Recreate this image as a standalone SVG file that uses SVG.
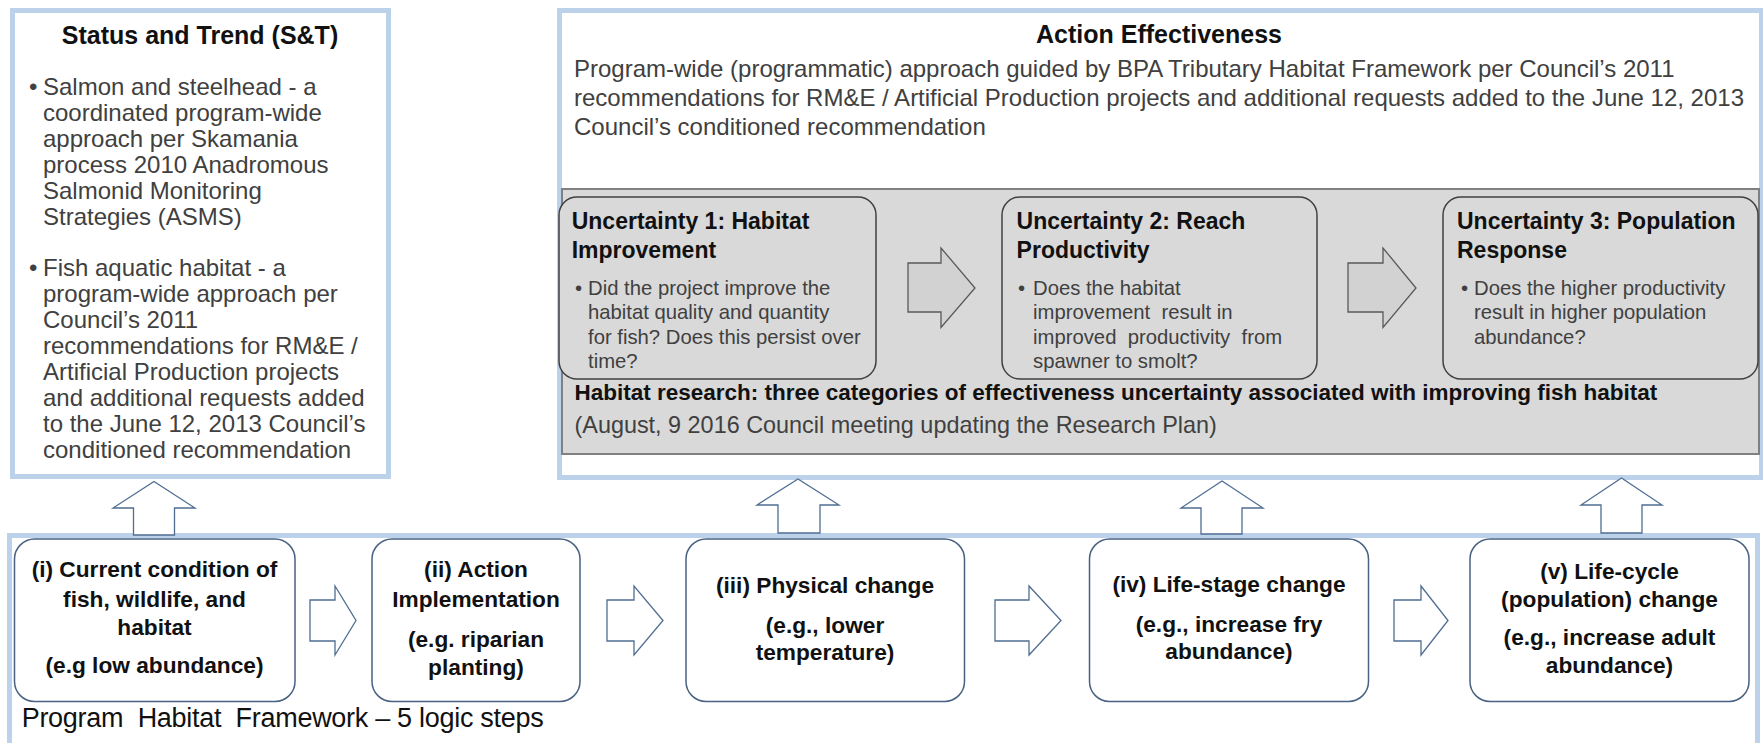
<svg xmlns="http://www.w3.org/2000/svg" width="1763" height="743" viewBox="0 0 1763 743">
<style>
text{font-family:"Liberation Sans",Arial,sans-serif}
.frame{fill:#fff;stroke:#bcd2ea;stroke-width:5}
.panel{fill:#d9d9d9;stroke:#808080;stroke-width:2}
.ubox{fill:#d9d9d9;stroke:#404040;stroke-width:1.5}
.step{fill:#fff;stroke:#4a6282;stroke-width:1.5}
.garrow{fill:#d2d2d2;stroke:#595959;stroke-width:1.3}
.warrow{fill:#fff;stroke:#4f6d92;stroke-width:1.3}
.ttl{font-weight:bold;fill:#111;font-size:25px}
.stb{fill:#404040;font-size:24px}
.aei{fill:#404040;font-size:24px}
.ut{font-weight:bold;fill:#111;font-size:23px}
.ub{fill:#404040;font-size:20.3px}
.hr{font-weight:bold;fill:#111;font-size:22.5px}
.aug{fill:#404040;font-size:23.4px}
.st{font-weight:bold;fill:#111;font-size:22.7px;text-anchor:middle}
.phf{fill:#111;font-size:27px}
</style>
<rect width="1763" height="743" fill="#fff"/>

<g id="status-trend">
<rect class="frame" x="12.5" y="10.5" width="376" height="466"/>
<text class="ttl" x="200" y="44" text-anchor="middle">Status and Trend (S&amp;T)</text>
<text class="stb" x="29" y="95">•</text>
<text class="stb" x="43" y="95">Salmon and steelhead - a</text>
<text class="stb" x="43" y="120.9">coordinated program-wide</text>
<text class="stb" x="43" y="146.8">approach per Skamania</text>
<text class="stb" x="43" y="172.7">process 2010 Anadromous</text>
<text class="stb" x="43" y="198.6">Salmonid Monitoring</text>
<text class="stb" x="43" y="224.5">Strategies (ASMS)</text>
<text class="stb" x="29" y="276.3">•</text>
<text class="stb" x="43" y="276.3">Fish aquatic habitat - a</text>
<text class="stb" x="43" y="302.2">program-wide approach per</text>
<text class="stb" x="43" y="328.1">Council’s 2011</text>
<text class="stb" x="43" y="354">recommendations for RM&amp;E /</text>
<text class="stb" x="43" y="379.9">Artificial Production projects</text>
<text class="stb" x="43" y="405.8">and additional requests added</text>
<text class="stb" x="43" y="431.7">to the June 12, 2013 Council’s</text>
<text class="stb" x="43" y="457.6">conditioned recommendation</text>
</g>

<g id="action-effectiveness">
<rect class="frame" x="559.5" y="10.5" width="1202" height="467"/>
<text class="ttl" x="1159" y="43" text-anchor="middle">Action Effectiveness</text>
<text class="aei" x="574" y="77">Program-wide (programmatic) approach guided by BPA Tributary Habitat Framework per Council’s 2011</text>
<text class="aei" x="574" y="106">recommendations for RM&amp;E / Artificial Production projects and additional requests added to the June 12, 2013</text>
<text class="aei" x="574" y="135">Council’s conditioned recommendation</text>
</g>

<g id="habitat-research">
<rect class="panel" x="562" y="189" width="1197" height="265"/>
<text class="hr" x="574.5" y="400">Habitat research: three categories of effectiveness uncertainty associated with improving fish habitat</text>
<text class="aug" x="574.5" y="433">(August, 9 2016 Council meeting updating the Research Plan)</text>
</g>

<g id="uncertainty-1">
<rect class="ubox" x="559" y="197" width="317" height="182" rx="18"/>
<text class="ut" x="571.7" y="229">Uncertainty 1: Habitat</text>
<text class="ut" x="571.7" y="258">Improvement</text>
<text class="ub" x="575" y="295">•</text>
<text class="ub" x="588" y="295">Did the project improve the</text>
<text class="ub" x="588" y="319.3">habitat quality and quantity</text>
<text class="ub" x="588" y="343.6">for fish? Does this persist over</text>
<text class="ub" x="588" y="367.9">time?</text>
</g>

<g id="uncertainty-2">
<rect class="ubox" x="1002" y="197" width="315" height="182" rx="18"/>
<text class="ut" x="1016.6" y="229">Uncertainty 2: Reach</text>
<text class="ut" x="1016.6" y="258">Productivity</text>
<text class="ub" x="1018" y="295">•</text>
<text class="ub" x="1033" y="295">Does the habitat</text>
<text class="ub" x="1033" y="319.3" xml:space="preserve">improvement  result in</text>
<text class="ub" x="1033" y="343.6" xml:space="preserve">improved  productivity  from</text>
<text class="ub" x="1033" y="367.9">spawner to smolt?</text>
</g>

<g id="uncertainty-3">
<rect class="ubox" x="1443" y="197" width="315" height="182" rx="18"/>
<text class="ut" x="1457" y="229">Uncertainty 3: Population</text>
<text class="ut" x="1457" y="258">Response</text>
<text class="ub" x="1461" y="295">•</text>
<text class="ub" x="1474" y="295">Does the higher productivity</text>
<text class="ub" x="1474" y="319.3">result in higher population</text>
<text class="ub" x="1474" y="343.6">abundance?</text>
</g>

<g id="program-habitat-framework">
<rect class="frame" x="9.5" y="535.5" width="1748" height="230"/>
<text class="phf" x="21.7" y="727.3" textLength="522" xml:space="preserve">Program  Habitat  Framework – 5 logic steps</text>
</g>

<g id="step-i">
<rect class="step" x="14.5" y="539" width="280.5" height="162.5" rx="20"/>
<text class="st" x="154.5" y="577.3">(i) Current condition of</text>
<text class="st" x="154.5" y="606.5">fish, wildlife, and</text>
<text class="st" x="154.5" y="635">habitat</text>
<text class="st" x="154.5" y="673.3">(e.g low abundance)</text>
</g>

<g id="step-ii">
<rect class="step" x="372" y="539" width="208" height="162.5" rx="20"/>
<text class="st" x="476" y="577.3">(ii) Action</text>
<text class="st" x="476" y="606.5">Implementation</text>
<text class="st" x="476" y="646.5">(e.g. riparian</text>
<text class="st" x="476" y="675">planting)</text>
</g>

<g id="step-iii">
<rect class="step" x="686" y="539" width="278.5" height="162.5" rx="20"/>
<text class="st" x="825" y="593">(iii) Physical change</text>
<text class="st" x="825" y="633">(e.g., lower</text>
<text class="st" x="825" y="660">temperature)</text>
</g>

<g id="step-iv">
<rect class="step" x="1089.5" y="539" width="279" height="162.5" rx="20"/>
<text class="st" x="1229" y="591.7">(iv) Life-stage change</text>
<text class="st" x="1229" y="631.7">(e.g., increase fry</text>
<text class="st" x="1229" y="658.5">abundance)</text>
</g>

<g id="step-v">
<rect class="step" x="1470" y="539" width="279" height="162.5" rx="20"/>
<text class="st" x="1609.5" y="578.5">(v) Life-cycle</text>
<text class="st" x="1609.5" y="607">(population) change</text>
<text class="st" x="1609.5" y="645">(e.g., increase adult</text>
<text class="st" x="1609.5" y="673.3">abundance)</text>
</g>

<g id="connectors">
<path class="garrow" d="M908,263 H941 V248 L975,288 L941,327.5 V312 H908 Z"/>
<path class="garrow" d="M1348,263 H1383 V248 L1416,288 L1383,327.5 V312 H1348 Z"/>
<path class="warrow" d="M310,600 H335 V586 L356,620.5 L335,655 V641 H310 Z"/>
<path class="warrow" d="M607,600 H634 V586 L663,620.5 L634,655 V641 H607 Z"/>
<path class="warrow" d="M995,600 H1029 V586 L1061,620.5 L1029,655 V641 H995 Z"/>
<path class="warrow" d="M1394,600 H1421 V586 L1448,620.5 L1421,655 V641 H1394 Z"/>
<path class="warrow" d="M133.5,535 V508 H113 L154,481.5 L195,508 H174.5 V535 Z"/>
<path class="warrow" d="M778,533 V505 H757 L798,479 L839,505 H820 V533 Z"/>
<path class="warrow" d="M1201,534 V508 H1181 L1222,481 L1263,508 H1242 V534 Z"/>
<path class="warrow" d="M1601,533 V505 H1581 L1621.5,478 L1662,505 H1642 V533 Z"/>
</g>
</svg>
